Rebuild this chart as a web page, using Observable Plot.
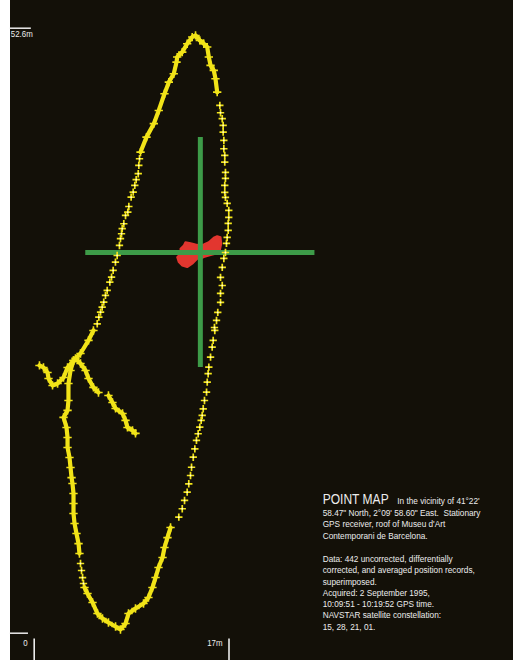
<!DOCTYPE html>
<html><head><meta charset="utf-8">
<script src="https://cdn.jsdelivr.net/npm/d3@7"></script>
<script src="https://cdn.jsdelivr.net/npm/@observablehq/plot@0.6"></script>
<style>
html,body{margin:0;padding:0;background:#ffffff;}
#chart{position:absolute;left:10px;top:0;width:503px;height:660px;background:#131008;}
#chart svg{display:block;}
</style></head><body><div id="chart"></div>
<script>
// ---- data (metres east / north of origin) ----
// dense stretches of uncorrected position records (drawn as a continuous trail)
const trackEastSpur = [[8.84,17.37],[8.58,17.63],[8.14,17.89],[7.97,18.50],[7.71,19.10],[7.10,19.54],[6.83,20.06],[6.48,20.67]];
const trackSpurJoin = [[5.61,20.93],[5.17,21.37],[4.74,22.15],[4.48,22.84],[4.04,23.45],[3.60,23.89]];
const trackWestSpur = [[0.46,23.28],[0.81,23.10],[1.16,22.67],[1.25,22.15],[1.60,21.54],[2.04,21.71],[2.56,22.23],[2.91,23.10],[3.43,23.71]];
const trackWestSide = [[5.17,26.32],[4.74,25.46],[4.04,24.32],[3.43,23.71],[3.17,22.84],[2.99,21.71],[2.99,20.23],[2.91,19.37],[2.56,18.76],[2.82,17.89],[2.91,17.02],[2.91,16.15],[3.08,15.28],[3.17,14.41],[3.26,13.53],[3.34,13.02],[3.43,12.15],[3.43,11.28],[3.43,10.41],[3.52,9.54],[3.69,8.67],[3.87,7.79],[3.95,6.93]];
const trackSouth = [[4.39,3.97],[4.65,3.45],[5.09,2.67],[5.52,1.71],[5.96,1.28],[6.48,0.93],[7.10,0.58],[7.53,0.32],[7.97,0.84],[8.23,1.71],[8.84,2.15],[9.54,2.58],[9.97,3.10],[10.32,3.97],[10.59,4.84],[10.85,5.71],[11.20,6.58],[11.37,7.45],[11.63,8.31],[11.90,9.19]];
const trackNorth = [[15.97,47.04],[15.82,48.21],[15.67,48.93],[15.39,49.37],[15.24,50.09],[15.10,50.96],[14.80,51.25],[14.45,51.54],[14.08,51.97],[13.79,51.83],[13.35,51.25],[12.92,50.52],[12.48,50.09],[12.42,49.65],[12.18,48.64],[11.75,47.91],[11.37,46.90],[10.87,45.45],[10.44,44.30],[9.80,43.13],[9.28,41.83]];
// sparse records (separate crosses)
const sparseSouthWest = [[4.04,6.06],[4.13,5.45],[4.22,4.84],[4.30,4.32]];
const sparseSouthEast = [[12.62,10.09],[12.92,10.82],[13.12,11.54],[13.35,12.26],[13.49,12.99]];
const sparseEastLow = [[13.64,13.71],[13.73,14.43],[13.88,15.30],[14.02,16.03],[14.16,16.76],[14.31,17.34],[14.45,17.91],[14.57,18.50],[14.66,18.93],[14.75,19.51],[14.86,20.23],[15.04,20.96],[15.10,21.83],[15.18,22.56],[15.24,23.13],[15.39,24.00],[15.53,24.87],[15.62,25.46],[15.76,26.32]];
const sparseEastMid = [[15.73,26.58],[15.91,27.19],[16.02,27.89],[16.26,28.76],[16.26,29.54],[16.41,30.23],[16.26,30.93],[16.41,31.80],[16.55,32.58],[16.69,33.10],[16.78,33.89],[16.84,34.41],[16.93,35.02],[16.93,35.63],[16.98,36.15],[16.98,36.76],[16.84,37.37],[16.69,37.89],[16.63,38.32],[16.63,38.93],[16.69,39.54],[16.69,40.06]];
const sparseEastHigh = [[16.63,40.96],[16.63,41.54],[16.55,42.12],[16.55,42.84],[16.49,43.57],[16.49,44.15],[16.41,44.73],[16.26,45.25],[16.20,45.89]];
const sparseWest = [[9.19,41.25],[9.13,40.67],[9.08,39.95],[8.90,39.43],[8.78,38.93],[8.64,38.35],[8.46,37.91],[8.26,37.10],[8.17,36.61],[7.97,36.32],[7.82,35.60],[7.68,35.17],[7.62,34.73],[7.53,34.30],[7.44,33.71],[7.24,32.84],[7.09,32.26],[6.89,31.54],[6.75,30.96],[6.60,30.52],[6.37,29.80],[6.22,29.37],[6.07,28.78],[5.93,28.35],[5.79,27.91],[5.64,27.48],[5.50,26.90]];
// corrected / averaged records (red cluster outline)
const correctedOutline = [[12.77,32.99],[12.77,33.43],[13.06,33.71],[13.20,34.00],[13.64,33.91],[14.08,33.80],[14.51,33.71],[14.80,33.80],[15.24,34.00],[15.67,34.38],[15.97,34.52],[16.26,34.43],[16.32,33.86],[16.20,33.28],[15.82,32.99],[15.24,32.84],[14.80,32.70],[14.51,32.56],[14.22,32.56],[13.79,32.12],[13.35,31.83],[12.92,31.97],[12.62,32.26],[12.48,32.70]];
// true receiver position crosshair
const crossCentre = [14.5, 33.1];
const crossHalf = 10;
// scale extents and tick labels
const xTicks = [0, 17];
const xTickLabels = ["0", "17m"];
const yTicks = [0, 52.6];
const yTickLabel = "52.6m";
const captionTitle = "POINT MAP";
const captionLead = "In the vicinity of 41°22'";
const captionLines = [
  "58.47\" North, 2°09' 58.60\" East.  Stationary",
  "GPS receiver, roof of Museu d'Art",
  "Contemporani de Barcelona.",
  "",
  "Data: 442 uncorrected, differentially",
  "corrected, and averaged position records,",
  "superimposed.",
  "Acquired: 2 September 1995,",
  "10:09:51 - 10:19:52 GPS time.",
  "NAVSTAR satellite constellation:",
  "15, 28, 21, 01."
];

// ---- build tables ----
const denseTracks = [trackEastSpur, trackSpurJoin, trackWestSpur, trackWestSide, trackSouth, trackNorth];
const sparseTracks = [sparseSouthWest, sparseSouthEast, sparseEastLow, sparseEastMid, sparseEastHigh, sparseWest];
const dense = denseTracks.flatMap((a, i) => a.map(([x, y]) => ({x, y, seg: i})));
const sparse = sparseTracks.flatMap((a, i) => a.map(([x, y]) => ({x, y, seg: 100 + i})));
const red = correctedOutline.map(([x, y]) => ({x, y}));

const YELLOW = "#f1e318", RED = "#e2362f", GREEN = "#3d9b48", WHITE = "#ececec";

const plot = Plot.plot({
  width: 503, height: 660,
  x: {domain: [0, 17], range: [23.7, 218.5], axis: null},
  y: {domain: [0, 52.6], range: [632.7, 27.7], axis: null},
  style: {background: "transparent", overflow: "visible"},
  marks: [
    Plot.line(red, {x: "x", y: "y", fill: RED, stroke: RED, strokeWidth: 2, curve: "linear-closed"}),
    Plot.ruleX([crossCentre[0]], {y1: crossCentre[1] - crossHalf, y2: crossCentre[1] + crossHalf, stroke: GREEN, strokeWidth: 5}),
    Plot.ruleY([crossCentre[1]], {x1: crossCentre[0] - crossHalf, x2: crossCentre[0] + crossHalf, stroke: GREEN, strokeWidth: 5}),
    Plot.line(dense, {x: "x", y: "y", z: "seg", stroke: YELLOW, strokeWidth: 4.2, strokeLinejoin: "round", strokeLinecap: "round"}),
    Plot.dot(dense, {x: "x", y: "y", symbol: "plus", r: 2.8, stroke: YELLOW, strokeWidth: 1.6}),
    Plot.dot(sparse, {x: "x", y: "y", symbol: "plus", r: 2.5, stroke: YELLOW, strokeWidth: 1.7}),
    Plot.dot(sparse, {x: "x", y: "y", r: 0.9, fill: "#fffbe3"}),
    // scale marks
    Plot.ruleY([yTicks[0]], {x1: -2.1, x2: -0.5, stroke: WHITE, strokeWidth: 1.5}),
    Plot.ruleY([yTicks[1]], {x1: -2.1, x2: -0.25, stroke: WHITE, strokeWidth: 1.5}),
    Plot.ruleX(xTicks, {y1: -0.5, y2: -2.4, stroke: WHITE, strokeWidth: 1.6})
  ]
});
document.getElementById("chart").appendChild(plot);

const sx = plot.scale("x"), sy = plot.scale("y");
const svg = d3.select(plot);
function label(txt, x, y, size, anchor, sxf) {
  svg.append("text")
    .attr("transform", `translate(${x},${y}) scale(${sxf},1)`)
    .attr("text-anchor", anchor)
    .attr("font-family", "'Liberation Sans', Arial, sans-serif")
    .attr("font-size", size)
    .attr("fill", WHITE)
    .style("white-space", "pre")
    .text(txt);
}
// tick labels
label(yTickLabel, 0.8, sy.apply(yTicks[1]) + 9.5, 9.4, "start", 0.84);
xTicks.forEach((t, i) => label(xTickLabels[i], sx.apply(t) - 6, sy.apply(0) + 13.5, 9.4, "end", 0.84));
// caption
const cx = 312.7;
label(captionTitle, cx, 503.5, 14, "start", 0.86);
label(captionLead, 387.3, 503.5, 9.6, "start", 0.86);
const baselines = [515.5, 527, 538.5, 550, 561.5, 573, 584.5, 596, 607, 618, 629.5];
captionLines.forEach((t, i) => { if (t) label(t, cx, baselines[i], 9.6, "start", 0.86); });
</script></body></html>
